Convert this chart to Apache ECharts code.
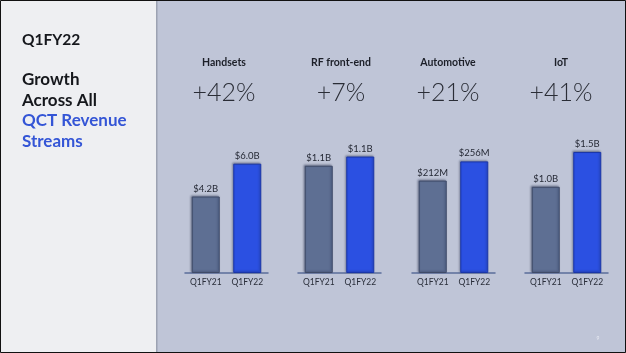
<!DOCTYPE html>
<html>
<head>
<meta charset="utf-8">
<script src="https://cdn.jsdelivr.net/npm/echarts@6/dist/echarts.min.js"></script>
<style>
  html, body { margin: 0; padding: 0; background: #bfc5d7; }
  #main { width: 626px; height: 353px; }
</style>
</head>
<body>
<div id="main"></div>
<script>
// 数据
var periods = ["Q1FY21", "Q1FY22"];
var segments = ["Handsets", "RF front-end", "Automotive", "IoT"];
var growth = ["+42%", "+7%", "+21%", "+41%"];
var prevValues = [4.2, 1.05, 212, 1.04];
var currValues = [6.0, 1.14, 256, 1.46];
var prevLabels = ["$4.2B", "$1.1B", "$212M", "$1.0B"];
var currLabels = ["$6.0B", "$1.1B", "$256M", "$1.5B"];
var axisMax = [7.85, 1.4, 328, 1.725]; // each panel has its own scale

var gridLeft = [185, 298, 412, 525];
var gridWidth = 83;
var titleX = [224, 341, 448, 561];

var grids = [], xAxes = [], yAxes = [], series = [];
for (var i = 0; i < segments.length; i++) {
  grids.push({ left: gridLeft[i], width: gridWidth, top: 130, bottom: 80 });
  xAxes.push({
    type: "category",
    gridIndex: i,
    data: periods,
    axisTick: { show: false },
    axisLine: { lineStyle: { color: "#5b6d9b", width: 1.5 } },
    axisLabel: { color: "#2a2e3a", fontSize: 8.5, margin: 5, fontFamily: "Lato" }
  });
  yAxes.push({
    type: "value",
    gridIndex: i,
    min: 0,
    max: axisMax[i],
    show: false,
    splitLine: { show: false }
  });
  (function (idx) {
    series.push({
      type: "bar",
      xAxisIndex: idx,
      yAxisIndex: idx,
      barWidth: 28,
      data: [
        {
          value: prevValues[idx],
          itemStyle: { color: "#5e6f93", borderColor: "#3f4b68", borderWidth: 1 }
        },
        {
          value: currValues[idx],
          itemStyle: { color: "#2b50e2", borderColor: "#1a36a8", borderWidth: 1 }
        }
      ],
      itemStyle: {
        shadowColor: "rgba(20,30,60,0.35)",
        shadowBlur: 2,
        shadowOffsetX: -1,
        shadowOffsetY: -1
      },
      label: {
        show: true,
        position: "top",
        distance: 3,
        color: "#262a36",
        fontSize: 9.5,
        fontFamily: "Lato",
        formatter: function (p) {
          return p.dataIndex === 0 ? prevLabels[idx] : currLabels[idx];
        }
      }
    });
  })(i);
}

var graphics = [
  // left panel
  { type: "rect", shape: { x: 0, y: 0, width: 157, height: 353 }, style: { fill: "#eeeff2" }, silent: true },
  { type: "rect", shape: { x: 156, y: 0, width: 1.5, height: 353 }, style: { fill: "#9ca2b2" }, silent: true },
  { type: "rect", shape: { x: 0.5, y: 0.5, width: 625, height: 352 }, style: { fill: null, stroke: "#111", lineWidth: 1 }, silent: true },
  { type: "text", x: 22, y: 40, style: { text: "Q1FY22", font: "bold 15.5px Lato", fill: "#15171c", textVerticalAlign: "middle" } },
  { type: "text", x: 22, y: 80, style: { text: "Growth", font: "bold 17px Lato", fill: "#15171c", textVerticalAlign: "middle" } },
  { type: "text", x: 22, y: 100.5, style: { text: "Across All", font: "bold 17px Lato", fill: "#15171c", textVerticalAlign: "middle" } },
  { type: "text", x: 22, y: 121, style: { text: "QCT Revenue", font: "bold 17px Lato", fill: "#3455d6", textVerticalAlign: "middle" } },
  { type: "text", x: 22, y: 141.5, style: { text: "Streams", font: "bold 17px Lato", fill: "#3455d6", textVerticalAlign: "middle" } },
  { type: "text", x: 598, y: 338, style: { text: "9", font: "5px Lato", fill: "#e8ebf3", textAlign: "center", textVerticalAlign: "middle" } }
];
for (var j = 0; j < segments.length; j++) {
  graphics.push({
    type: "text", x: titleX[j], y: 63,
    style: { text: segments[j], font: "bold 10.5px Lato", fill: "#1c1f28", textAlign: "center", textVerticalAlign: "middle" }
  });
  graphics.push({
    type: "text", x: titleX[j], y: 93,
    style: { text: growth[j], font: "300 25px Lato", fill: "#2a2d36", textAlign: "center", textVerticalAlign: "middle" }
  });
}

var myChart = echarts.init(document.getElementById("main"));
myChart.setOption({
  backgroundColor: "#bfc5d7",
  animation: false,
  grid: grids,
  xAxis: xAxes,
  yAxis: yAxes,
  series: series,
  graphic: graphics
});
</script>
</body>
</html>
